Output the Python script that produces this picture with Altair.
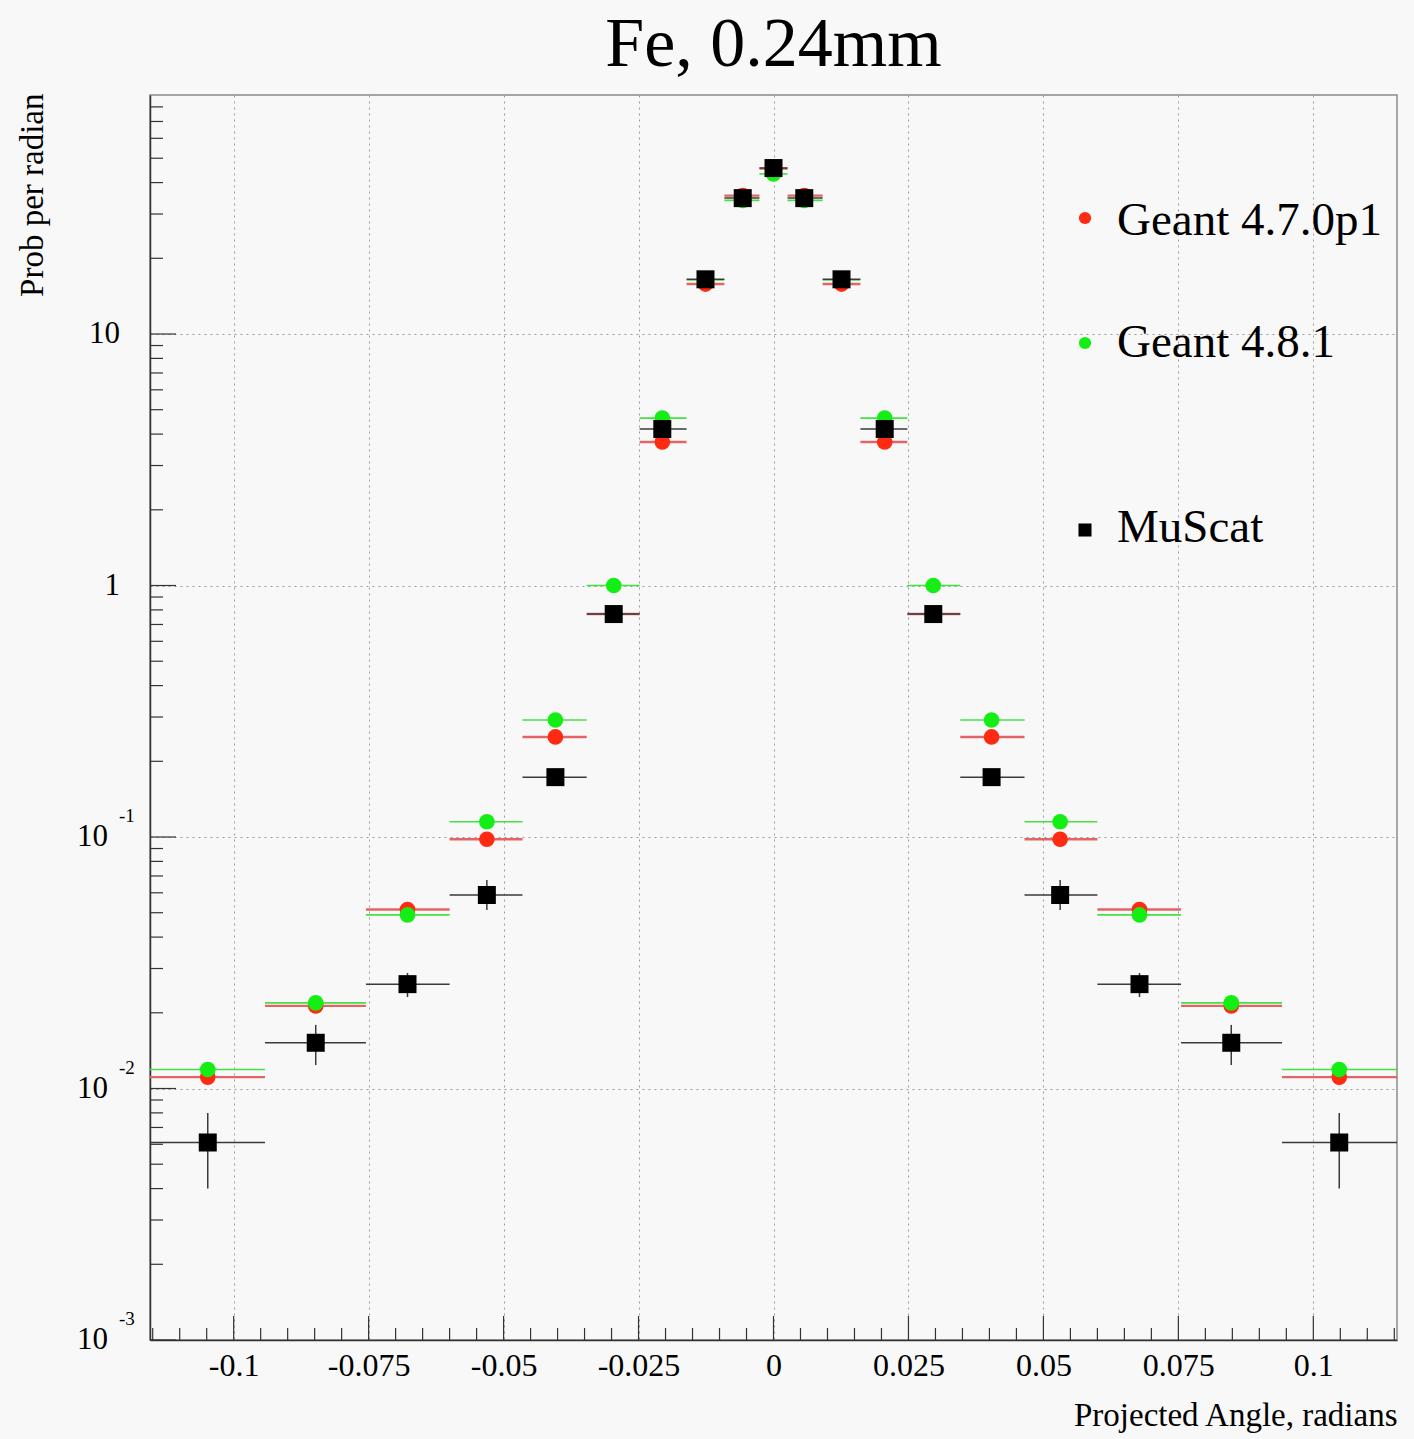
import altair as alt
import pandas as pd

FONT = "Liberation Serif"

# ---------------- data ----------------
bin_centers = [-0.1048, -0.0848, -0.0678, -0.0531, -0.0404, -0.0296, -0.0206, -0.0126, -0.0057, 0.0,
               0.0057, 0.0126, 0.0206, 0.0296, 0.0404, 0.0531, 0.0678, 0.0848, 0.1048]
bin_lo = [-0.1155, -0.0942, -0.0755, -0.0600, -0.0465, -0.0346, -0.0248, -0.0161, -0.0091, -0.0026,
          0.0026, 0.0091, 0.0161, 0.0248, 0.0346, 0.0465, 0.0600, 0.0755, 0.0942]
bin_hi = [-0.0942, -0.0755, -0.0600, -0.0465, -0.0346, -0.0248, -0.0161, -0.0091, -0.0026, 0.0026,
          0.0091, 0.0161, 0.0248, 0.0346, 0.0465, 0.0600, 0.0755, 0.0942, 0.1155]

geant470 = [0.0111, 0.0213, 0.0515, 0.098, 0.250, 0.77, 3.72, 15.8, 35.5, 45.5,
            35.5, 15.8, 3.72, 0.77, 0.250, 0.098, 0.0515, 0.0213, 0.0111]
geant481 = [0.0119, 0.0219, 0.0490, 0.115, 0.292, 1.00, 4.63, 16.4, 34.0, 43.3,
            34.0, 16.4, 4.63, 1.00, 0.292, 0.115, 0.0490, 0.0219, 0.0119]
muscat = [0.0061, 0.0152, 0.0260, 0.0588, 0.173, 0.77, 4.19, 16.5, 34.7, 45.7,
          34.7, 16.5, 4.19, 0.77, 0.173, 0.0588, 0.0260, 0.0152, 0.0061]
muscat_lo = [0.0040, 0.0124, 0.0231, 0.0513, 0.163, 0.74, 4.08, 16.2, 34.2, 45.0,
             34.2, 16.2, 4.08, 0.74, 0.163, 0.0513, 0.0231, 0.0124, 0.0040]
muscat_hi = [0.0080, 0.0179, 0.0288, 0.0675, 0.183, 0.80, 4.30, 16.8, 35.2, 46.4,
             35.2, 16.8, 4.30, 0.80, 0.183, 0.0675, 0.0288, 0.0179, 0.0080]

legend_labels = ["Geant 4.7.0p1", "Geant 4.8.1", "MuScat"]
title_text = ["Fe, 0.24mm"]

x_major = [-0.1, -0.075, -0.05, -0.025, 0.0, 0.025, 0.05, 0.075, 0.1]
x_minor = [round(-0.115 + 0.005 * i, 3) for i in range(47)]
x_minor = [v for v in x_minor if all(abs(v - m) > 1e-9 for m in x_major)]
y_major = [0.001, 0.01, 0.1, 1.0, 10.0]
y_minor = [k * 10.0 ** e for e in range(-3, 2) for k in range(2, 10) if k * 10.0 ** e < 89]

y_label_vals = [10.0, 1.0, 0.1, 0.01, 0.001]
y_label_base = ["10", "1", "10", "10", "10"]
y_label_exp = ["", "", "-1", "-2", "-3"]

# ---------------- frames ----------------
W, H = 1247, 1245

def series_df(vals, lo=None, hi=None):
    return pd.DataFrame({
        "x": bin_centers, "xlo": bin_lo, "xhi": bin_hi, "y": vals,
        "ylo": lo if lo is not None else vals, "yhi": hi if hi is not None else vals,
    })

d470 = series_df(geant470)
d481 = series_df(geant481)
dmu = series_df(muscat, muscat_lo, muscat_hi)

xscale = alt.Scale(domain=[-0.1155, 0.1155], nice=False, zero=False)
yscale = alt.Scale(type="log", domain=[0.001, 89.2], nice=False)

xaxis = alt.Axis(
    values=x_major, ticks=False, grid=True, gridDash=[2, 4], gridColor="#9a9a9a", gridWidth=1,
    domainColor="#333333", domainWidth=1.5,
    labelExpr="datum.value == 0 ? '0' : '' + datum.value",
    labelFont=FONT, labelFontSize=32, labelColor="black", labelPadding=10,
    title="Projected Angle, radians", titleFont=FONT, titleFontSize=33, titleFontWeight="normal",
    titleColor="black", titleX=W, titleY=85, titleAlign="right", titleBaseline="alphabetic",
)
yaxis = alt.Axis(
    values=y_major, ticks=False, labels=False, grid=True, gridDash=[2, 4], gridColor="#9a9a9a",
    gridWidth=1, domainColor="#333333", domainWidth=1.5,
    title="Prob per radian", titleFont=FONT, titleFontSize=33, titleFontWeight="normal",
    titleColor="black", titleX=-118, titleY=-2, titleAngle=270, titleAlign="right",
    titleBaseline="middle",
)

def X(f):
    return alt.X(f, type="quantitative", scale=xscale, axis=xaxis, title="Projected Angle, radians")

def Y(f):
    return alt.Y(f, type="quantitative", scale=yscale, axis=yaxis, title="Prob per radian")

RED, GREEN = "#ff2a12", "#14ee14"

layers = []
# red
layers.append(alt.Chart(d470).mark_rule(color="#e26464", strokeWidth=2.4).encode(x=X("xlo"), x2="xhi", y=Y("y")))
layers.append(alt.Chart(d470).mark_point(shape="circle", filled=True, size=245, color=RED, opacity=1).encode(x=X("x"), y=Y("y")))
# green
layers.append(alt.Chart(d481).mark_rule(color="#44e044", strokeWidth=1.6).encode(x=X("xlo"), x2="xhi", y=Y("y")))
layers.append(alt.Chart(d481).mark_point(shape="circle", filled=True, size=245, color=GREEN, opacity=1).encode(x=X("x"), y=Y("y")))
# black
layers.append(alt.Chart(dmu).mark_rule(color="#3a3a3a", strokeWidth=1.5).encode(x=X("xlo"), x2="xhi", y=Y("y")))
layers.append(alt.Chart(dmu).mark_rule(color="#3a3a3a", strokeWidth=1.5).encode(x=X("x"), y=Y("ylo"), y2="yhi"))
layers.append(alt.Chart(dmu).mark_point(shape="square", filled=True, size=324, color="black", opacity=1).encode(x=X("x"), y=Y("y")))

# inward ticks
TC = "#333333"
layers.append(alt.Chart(pd.DataFrame({"t": x_major})).mark_rule(color=TC, strokeWidth=1.2).encode(x=X("t"), y=alt.value(H), y2=alt.value(H - 24)))
layers.append(alt.Chart(pd.DataFrame({"t": x_minor})).mark_rule(color=TC, strokeWidth=1.2).encode(x=X("t"), y=alt.value(H), y2=alt.value(H - 12)))
layers.append(alt.Chart(pd.DataFrame({"t": y_major})).mark_rule(color=TC, strokeWidth=1.2).encode(y=Y("t"), x=alt.value(0), x2=alt.value(26)))
layers.append(alt.Chart(pd.DataFrame({"t": y_minor})).mark_rule(color=TC, strokeWidth=1.2).encode(y=Y("t"), x=alt.value(0), x2=alt.value(13)))

# y tick labels with superscript exponents
ylab = pd.DataFrame({"v": y_label_vals, "base": y_label_base, "exp": y_label_exp})
plain = ylab[ylab["exp"] == ""]
expd = ylab[ylab["exp"] != ""]
layers.append(alt.Chart(plain).mark_text(align="right", baseline="middle", font=FONT, fontSize=31, color="black").encode(y=Y("v"), x=alt.value(-30), text="base:N"))
layers.append(alt.Chart(expd).mark_text(align="right", baseline="middle", font=FONT, fontSize=31, color="black").encode(y=Y("v"), x=alt.value(-42), text="base:N"))
layers.append(alt.Chart(expd).mark_text(align="left", baseline="middle", dy=-21, font=FONT, fontSize=19, color="black").encode(y=Y("v"), x=alt.value(-31), text="exp:N"))

# legend (manual, uneven row spacing as in the reference)
leg_text_y = [140, 262, 447]
leg_mark_y = [123, 248, 435]
leg_styles = [("circle", RED, 150), ("circle", GREEN, 150), ("square", "black", 170)]
for i, lab in enumerate(legend_labels):
    ldf = pd.DataFrame({"label": [lab]})
    shape, col, size = leg_styles[i]
    layers.append(alt.Chart(ldf).mark_point(shape=shape, filled=True, size=size, color=col, opacity=1).encode(x=alt.value(935), y=alt.value(leg_mark_y[i])))
    layers.append(alt.Chart(ldf).mark_text(align="left", baseline="alphabetic", font=FONT, fontSize=47, color="black").encode(x=alt.value(967), y=alt.value(leg_text_y[i]), text="label:N"))

# chart title, centred over the frame
tdf = pd.DataFrame({"label": title_text})
layers.append(alt.Chart(tdf).mark_text(align="center", baseline="alphabetic", font=FONT, fontSize=70, color="black").encode(x=alt.value(W / 2), y=alt.value(-29), text="label:N"))

chart = alt.layer(*layers).properties(
    width=W, height=H,
    padding={"left": 150, "top": 95, "right": 17, "bottom": 99},
    autosize=alt.AutoSizeParams(type="none"),
    background="#f8f8f8",
).configure_view(stroke="#8a8a8a", strokeWidth=1.5)

chart.save("out.html", embed_options={"renderer": "svg", "actions": False})
